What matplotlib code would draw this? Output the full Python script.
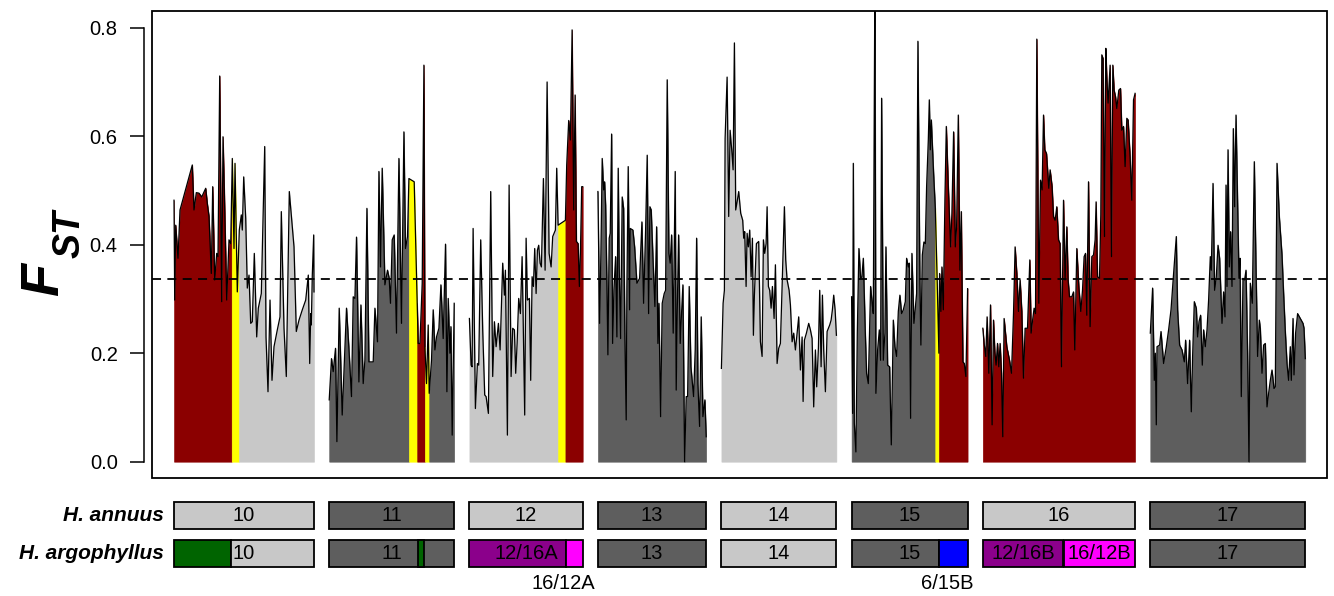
import matplotlib
matplotlib.use("Agg")
import matplotlib.pyplot as plt
import numpy as np
from matplotlib.patches import Rectangle

# ---- data (positions in map units from chromosome start, FST values) ----
chromosomes = ["10", "11", "12", "13", "14", "15", "16", "17"]
chrom_length = [140, 125, 113.3, 108.3, 115, 116, 152.3, 155]

chr10_pos = [0, 0.7, 1.7, 4, 6, 18.3, 20, 22.3, 25, 27.7, 31.7, 33.3, 35, 37.3, 38.7,
             40.7, 42.7, 44, 45.7, 47.7, 49, 50.3, 52.7, 55, 56.7, 58.3, 60, 61, 63.3,
             65.3, 67.3, 68.3, 69.7, 71.7, 73.3, 75, 76.7, 78.3, 80.3, 82.7, 84.3, 87.3,
             90.7, 92, 94, 96, 98, 100, 103.3, 106, 107.3, 110, 112.3, 115.3, 120, 122.3,
             125, 128.3, 131.7, 134.3, 135.7, 136.7, 137.3, 138.3, 139.7, 140]
chr10_fst = [0.482, 0.298, 0.436, 0.375, 0.464, 0.547, 0.464, 0.496, 0.495, 0.488, 0.504,
             0.476, 0.452, 0.347, 0.507, 0.335, 0.384, 0.378, 0.711, 0.295, 0.599, 0.501,
             0.298, 0.409, 0.402, 0.559, 0.393, 0.550, 0.313, 0.427, 0.455, 0.427, 0.525,
             0.449, 0.320, 0.344, 0.255, 0.258, 0.384, 0.230, 0.283, 0.310, 0.581, 0.230,
             0.129, 0.298, 0.150, 0.212, 0.243, 0.267, 0.461, 0.246, 0.157, 0.498, 0.396,
             0.240, 0.261, 0.280, 0.298, 0.344, 0.181, 0.273, 0.252, 0.344, 0.418, 0.313]

chr11_pos = [0, 2.3, 4, 6.3, 7.7, 10, 13, 17.3, 19.7, 22.3, 24, 25.7, 27.3, 29.7, 31.7,
             34, 35.7, 37.7, 39.7, 44, 45.7, 48.3, 49.7, 51.3, 53, 55.7, 58.3, 60, 61.3,
             63, 65, 67.3, 69.7, 72.3, 74.7, 76.3, 78.3, 79.7, 85, 89, 90.7, 93, 94.7,
             95.7, 97.3, 99, 100, 102.3, 104, 105.7, 107.3, 109.7, 111.7, 114, 116.3,
             117.7, 119, 120.7, 121.7, 123, 125]
chr11_fst = [0.114, 0.190, 0.166, 0.209, 0.037, 0.283, 0.086, 0.283, 0.209, 0.120, 0.304,
             0.301, 0.414, 0.147, 0.289, 0.144, 0.187, 0.467, 0.184, 0.184, 0.283, 0.221,
             0.535, 0.359, 0.541, 0.326, 0.353, 0.338, 0.292, 0.409, 0.418, 0.237, 0.559,
             0.255, 0.608, 0.393, 0.415, 0.522, 0.516, 0.218, 0.218, 0.329, 0.731, 0.212,
             0.144, 0.252, 0.126, 0.187, 0.280, 0.206, 0.230, 0.246, 0.326, 0.227, 0.401,
             0.129, 0.301, 0.200, 0.249, 0.049, 0.292]

chr12_pos = [0, 1.7, 2.7, 3.7, 6, 8, 9.3, 11.3, 13.3, 15.3, 16.7, 19, 21.3, 23.3, 25,
             26.7, 29, 30.7, 33.3, 35, 36, 38, 39.7, 41.7, 43.3, 45, 46.3, 47.7, 49.3, 51,
             52.7, 53.7, 55.3, 56.7, 58, 60, 61.3, 62.7, 64, 65.3, 66.7, 68, 69.3, 70.7,
             72, 74, 75.7, 77.7, 79.7, 81.7, 83.3, 86, 87.3, 88.7, 96, 97.3, 99.3, 101,
             102.7, 104.3, 105.7, 107, 108.7, 110, 111, 112.3, 113.3]
chr12_fst = [0.264, 0.178, 0.175, 0.430, 0.098, 0.181, 0.178, 0.409, 0.243, 0.123, 0.120,
             0.089, 0.498, 0.157, 0.258, 0.212, 0.255, 0.206, 0.366, 0.307, 0.353, 0.049,
             0.510, 0.157, 0.246, 0.243, 0.163, 0.218, 0.301, 0.273, 0.378, 0.270, 0.086,
             0.412, 0.298, 0.301, 0.150, 0.341, 0.323, 0.393, 0.310, 0.390, 0.399, 0.366,
             0.359, 0.522, 0.353, 0.700, 0.384, 0.359, 0.415, 0.427, 0.541, 0.436, 0.445,
             0.547, 0.629, 0.593, 0.796, 0.464, 0.676, 0.406, 0.402, 0.323, 0.384, 0.507,
             0.507]

chr13_pos = [0, 1.7, 3, 4.3, 5.7, 6.7, 7.7, 9, 10, 11.3, 12.3, 13.7, 14.7, 16, 17.7, 19,
             20.3, 21.3, 22.7, 24.3, 25.7, 27, 28.3, 29, 30.3, 31.7, 32.3, 35, 36.7, 39,
             41.7, 44, 45.7, 47.7, 49.3, 50.7, 52, 53.3, 55, 57, 58.7, 60, 61, 62.7, 64.3,
             66.3, 67.7, 69.3, 71, 72.3, 73.7, 75.3, 77.3, 78.3, 79.3, 80.7, 82.3, 83.7,
             85, 86.7, 88.3, 89.7, 91.3, 93, 95.7, 97.3, 98.7, 100, 101.7, 103.3, 105,
             107, 108.3]
chr13_fst = [0.498, 0.255, 0.384, 0.559, 0.501, 0.516, 0.473, 0.329, 0.197, 0.412, 0.421,
             0.604, 0.218, 0.316, 0.378, 0.230, 0.541, 0.359, 0.227, 0.488, 0.467, 0.230,
             0.077, 0.323, 0.544, 0.280, 0.430, 0.427, 0.396, 0.329, 0.338, 0.442, 0.292,
             0.427, 0.565, 0.273, 0.470, 0.464, 0.378, 0.286, 0.433, 0.218, 0.292, 0.083,
             0.292, 0.310, 0.316, 0.704, 0.384, 0.366, 0.418, 0.237, 0.535, 0.132, 0.273,
             0.418, 0.218, 0.276, 0.326, 0.0, 0.120, 0.120, 0.323, 0.175, 0.120, 0.206,
             0.412, 0.144, 0.065, 0.267, 0.083, 0.114, 0.046]

chr14_pos = [0, 1.7, 3, 3.7, 5.7, 7.3, 8.7, 10.3, 11.7, 13, 14.3, 15.7, 17.3, 19.3, 21.3,
             22.3, 23.3, 24.7, 25.7, 27, 28.3, 29.7, 31, 32, 33, 35, 37.3, 39, 40.7, 42,
             43.3, 44.7, 45.7, 47, 48.3, 49.7, 51, 52.7, 54, 55.7, 57.3, 59, 60.7, 63, 64.3,
             65.7, 67.7, 69, 70.7, 72.3, 74, 75.7, 77.3, 79, 80.7, 81.7, 83, 85, 87.3, 89,
             90.7, 92.3, 94, 95.3, 97, 98.3, 99.7, 101, 102.3, 104, 105.7, 108.3, 109.7,
             111, 112.3, 113.7, 115]
chr14_fst = [0.172, 0.292, 0.316, 0.596, 0.709, 0.452, 0.611, 0.575, 0.538, 0.772, 0.464,
             0.479, 0.498, 0.458, 0.445, 0.412, 0.424, 0.323, 0.421, 0.396, 0.427, 0.341,
             0.412, 0.233, 0.307, 0.402, 0.406, 0.221, 0.194, 0.409, 0.384, 0.402, 0.470,
             0.323, 0.316, 0.283, 0.323, 0.264, 0.363, 0.181, 0.209, 0.218, 0.323, 0.470,
             0.372, 0.335, 0.316, 0.289, 0.221, 0.237, 0.206, 0.237, 0.267, 0.169, 0.230,
             0.111, 0.224, 0.237, 0.255, 0.243, 0.227, 0.101, 0.206, 0.138, 0.209, 0.316,
             0.175, 0.307, 0.206, 0.129, 0.240, 0.252, 0.261, 0.280, 0.307, 0.280, 0.233]

chr15_pos = [0, 1, 1.7, 2.7, 4.3, 5.7, 7.3, 9, 10.3, 11.7, 13.7, 15, 16.7, 19, 20.7, 21.7,
             23.3, 24.3, 26, 27.7, 29, 30, 31.7, 33.3, 34.3, 36, 38, 39.7, 41.7, 43.3, 45,
             46.7, 48.3, 50, 51.7, 53.7, 55, 56.7, 57.7, 59, 60.3, 62.3, 65, 66.3, 68.3,
             69.3, 70.7, 72.3, 73.7, 75, 76.7, 77.7, 78.7, 79.7, 82, 83.7, 85.5, 87.3, 88,
             89.3, 90.3, 91.7, 93.3, 94.7, 96.7, 99, 100.3, 102, 103.7, 105, 106.7, 108.3,
             109.7, 111.3, 112.7, 114.3, 116]
chr15_fst = [0.304, 0.089, 0.550, 0.071, 0.018, 0.237, 0.393, 0.338, 0.341, 0.375, 0.237,
             0.163, 0.144, 0.323, 0.289, 0.273, 0.900, 0.126, 0.206, 0.243, 0.187, 0.670,
             0.187, 0.237, 0.396, 0.178, 0.175, 0.031, 0.261, 0.212, 0.194, 0.277, 0.307,
             0.273, 0.280, 0.295, 0.375, 0.359, 0.366, 0.080, 0.384, 0.255, 0.310, 0.775,
             0.329, 0.215, 0.381, 0.405, 0.402, 0.507, 0.593, 0.667, 0.575, 0.630, 0.531,
             0.467, 0.340, 0.200, 0.347, 0.277, 0.359, 0.280, 0.482, 0.618, 0.507, 0.396,
             0.458, 0.608, 0.396, 0.433, 0.639, 0.353, 0.461, 0.184, 0.181, 0.157, 0.319]

chr16_pos = [0, 1.3, 3, 4.3, 6, 7.7, 9.3, 10.7, 12, 13.3, 14.7, 16, 17.3, 18.7, 20, 21.3,
             24, 26.7, 28.7, 30.7, 32.3, 34, 35.7, 37.3, 39, 40.7, 42.3, 44.7, 47, 48.3,
             50, 51.3, 52.7, 54, 56, 57.7, 59.3, 60.7, 62, 63.7, 66, 67.3, 69.3, 70.7,
             72.3, 74, 75.7, 77.3, 78.7, 80.7, 82.3, 84, 85.3, 86.7, 89, 90.7, 92, 94, 96,
             98, 99.7, 101.3, 102.7, 104, 105.7, 107.3, 109, 110.7, 112.3, 113.3, 114.7,
             116.7, 118, 119, 120.3, 121.7, 123, 124, 125.3, 127.3, 128.7, 130, 131.3,
             132.7, 134, 136, 137.7, 139, 140.7, 142.3, 144, 145.3, 147.3, 149, 150.7, 152.3]
chr16_fst = [0.246, 0.218, 0.194, 0.267, 0.163, 0.289, 0.068, 0.261, 0.203, 0.178, 0.218,
             0.175, 0.218, 0.163, 0.046, 0.264, 0.212, 0.187, 0.163, 0.273, 0.396, 0.347,
             0.277, 0.335, 0.277, 0.154, 0.246, 0.246, 0.372, 0.237, 0.264, 0.283, 0.273,
             0.779, 0.292, 0.519, 0.501, 0.639, 0.575, 0.568, 0.504, 0.538, 0.507, 0.452,
             0.445, 0.470, 0.409, 0.402, 0.175, 0.482, 0.335, 0.433, 0.335, 0.304, 0.304,
             0.313, 0.206, 0.393, 0.323, 0.277, 0.316, 0.378, 0.384, 0.270, 0.516, 0.249,
             0.378, 0.381, 0.409, 0.479, 0.341, 0.338, 0.455, 0.750, 0.743, 0.415, 0.762,
             0.707, 0.661, 0.731, 0.378, 0.731, 0.685, 0.673, 0.651, 0.685, 0.688, 0.611,
             0.618, 0.544, 0.633, 0.630, 0.562, 0.482, 0.667, 0.679]

chr17_pos = [0, 2.3, 4, 5, 6, 6.7, 9.3, 10.7, 13.3, 16, 18.3, 20.7, 23.3, 26, 27.3, 29.3,
             31.7, 34, 35.3, 37.3, 39.3, 41, 42.3, 44, 46, 47.3, 48.7, 50.3, 52, 53.3, 55,
             56.7, 58.3, 60, 61, 62.7, 64.3, 66, 67.7, 69.3, 71.7, 73.3, 74.7, 75.7, 76.7,
             77.7, 79, 80.3, 81.7, 83, 84.3, 85.7, 87.3, 88.7, 89.7, 91, 92.7, 94.3, 95.7,
             97.3, 98.7, 100, 102, 104, 105.7, 107.3, 109, 110, 111.7, 113.3, 115, 116.7,
             118.3, 120, 121.7, 123.7, 125, 126.7, 129, 131.7, 133.3, 135, 136.7, 138.3,
             140, 141, 142.7, 143.7, 145.3, 147.3, 150, 152.7, 153.7, 155]
chr17_fst = [0.237, 0.320, 0.150, 0.200, 0.068, 0.212, 0.215, 0.240, 0.181, 0.212, 0.243,
             0.280, 0.347, 0.415, 0.280, 0.215, 0.206, 0.184, 0.224, 0.144, 0.224, 0.092,
             0.194, 0.295, 0.283, 0.230, 0.258, 0.270, 0.178, 0.243, 0.212, 0.243, 0.298,
             0.378, 0.353, 0.513, 0.316, 0.341, 0.399, 0.375, 0.255, 0.313, 0.267, 0.510,
             0.323, 0.575, 0.359, 0.424, 0.323, 0.614, 0.470, 0.639, 0.476, 0.338, 0.375,
             0.120, 0.338, 0.335, 0.353, 0.200, 0.0, 0.329, 0.292, 0.553, 0.359, 0.194,
             0.261, 0.246, 0.163, 0.215, 0.218, 0.101, 0.126, 0.150, 0.169, 0.135, 0.138,
             0.550, 0.452, 0.381, 0.310, 0.240, 0.181, 0.150, 0.212, 0.150, 0.264, 0.160,
             0.237, 0.273, 0.264, 0.255, 0.246, 0.190]

# colour classes along each chromosome in the FST panel
fst_segments = [
    [(0, 57.7, "inv"), (57.7, 65, "bnd"), (65, 140, "light")],
    [(0, 79.7, "dark"), (79.7, 88, "bnd"), (88, 95.7, "inv"), (95.7, 100, "bnd"),
     (100, 125, "dark")],
    [(0, 88.7, "light"), (88.7, 96, "bnd"), (96, 113.3, "inv")],
    [(0, 108.3, "dark")],
    [(0, 115, "light")],
    [(0, 83.7, "dark"), (83.7, 87.3, "bnd"), (87.3, 116, "inv")],
    [(0, 152.3, "inv")],
    [(0, 155, "dark")],
]

# karyotype boxes
annuus_class = ["light", "dark", "light", "dark", "light", "dark", "light", "dark"]
argo_segments = [
    [(0, 56.7, "green"), (56.7, 140, "light")],
    [(0, 125, "dark"), (88.3, 95, "green")],
    [(0, 96.7, "purple"), (96.7, 113.3, "magenta")],
    [(0, 108.3, "dark")],
    [(0, 115, "light")],
    [(0, 87.7, "dark"), (87.7, 116, "blue")],
    [(0, 80.7, "purple"), (80.7, 152.3, "magenta")],
    [(0, 155, "dark")],
]
argo_labels = [(0, None, "10"), (1, None, "11"), (2, None, "12/16A"), (3, None, "13"),
               (4, None, "14"), (5, None, "15"), (6, 40.3, "12/16B"),
               (6, 116.5, "16/12B"), (7, None, "17")]
below_labels = [(2, 94, "16/12A"), (5, 96, "6/15B")]

fst_threshold = 0.337
yticks = [0.0, 0.2, 0.4, 0.6, 0.8]

COLORS = {
    "inv": "#8B0000",
    "bnd": "#FFFF00",
    "light": "#C8C8C8",
    "dark": "#5E5E5E",
    "green": "#006400",
    "purple": "#8B008B",
    "magenta": "#FF00FF",
    "blue": "#0000FF",
}

GAP = 15.2
W, H = 1334, 596

chr_pos = [chr10_pos, chr11_pos, chr12_pos, chr13_pos, chr14_pos, chr15_pos, chr16_pos,
           chr17_pos]
chr_fst = [chr10_fst, chr11_fst, chr12_fst, chr13_fst, chr14_fst, chr15_fst, chr16_fst,
           chr17_fst]

offsets = []
acc = 0.0
for length in chrom_length:
    offsets.append(acc)
    acc += length + GAP
total = offsets[-1] + chrom_length[-1]
xlim = (-22.3, total + 21.7)

plt.rcParams["font.family"] = ["Liberation Sans", "DejaVu Sans"]

fig = plt.figure(figsize=(W / 100, H / 100), dpi=100)


def px_box(x0, y0, x1, y1):
    return [x0 / W, 1 - y1 / H, (x1 - x0) / W, (y1 - y0) / H]


ax = fig.add_axes(px_box(151.7, 11, 1327, 478.3))
ax.set_xlim(*xlim)
ax.set_ylim(-0.0306, 0.8308)


def segment(pos, fst, s, e):
    pos = np.asarray(pos, dtype=float)
    fst = np.asarray(fst, dtype=float)
    inside = (pos > s) & (pos < e)
    xs = np.concatenate([[s], pos[inside], [e]])
    ys = np.concatenate([[np.interp(s, pos, fst)], fst[inside], [np.interp(e, pos, fst)]])
    return xs, ys


for i in range(len(chromosomes)):
    off = offsets[i]
    for s, e, cls in fst_segments[i]:
        xs, ys = segment(chr_pos[i], chr_fst[i], s, e)
        ax.fill_between(off + xs, 0, ys, color=COLORS[cls], lw=0.4, zorder=2)
    ax.plot(off + np.asarray(chr_pos[i]), chr_fst[i], color="black", lw=0.9, zorder=3)

ax.axhline(fst_threshold, color="black", lw=1.3, linestyle=(0, (5, 3.5)), zorder=4)

for side in ["top", "right", "bottom"]:
    ax.spines[side].set_visible(False)
ax.spines["left"].set_position(("outward", 5.5))
ax.spines["left"].set_bounds(0, 0.8)
ax.spines["left"].set_linewidth(1.1)
ax.add_patch(Rectangle((0, 0), 1, 1, transform=ax.transAxes, fill=False,
                       edgecolor="black", lw=1.3, clip_on=False, zorder=5))
ax.set_xticks([])
ax.set_yticks(yticks)
ax.set_yticklabels([f"{v:.1f}" for v in yticks])
ax.tick_params(axis="y", length=10, width=1.1, pad=9, labelsize=14.5)

fig.text(58 / W, 1 - 296 / H, "F", rotation=90, rotation_mode="anchor", ha="left",
         va="baseline", fontsize=39, fontweight="bold", fontstyle="italic")
fig.text(80 / W, 1 - 258 / H, "ST", rotation=90, rotation_mode="anchor", ha="left",
         va="baseline", fontsize=27, fontweight="bold", fontstyle="italic")

# ---- karyotype panel ----
kx = fig.add_axes(px_box(151.7, 490, 1327, 596))
kx.set_xlim(*xlim)
kx.set_ylim((596 - 515.7) / 38, (490 - 515.7) / 38)
kx.axis("off")
bh = 0.70

for i in range(len(chromosomes)):
    off = offsets[i]
    kx.add_patch(Rectangle((off, -bh / 2), chrom_length[i], bh,
                           facecolor=COLORS[annuus_class[i]], edgecolor="black", lw=1.3))
    kx.text(off + chrom_length[i] / 2, 0, chromosomes[i], ha="center", va="center",
            fontsize=14.5)
    for s, e, cls in argo_segments[i]:
        kx.add_patch(Rectangle((off + s, 1 - bh / 2), e - s, bh, facecolor=COLORS[cls],
                               edgecolor="black", lw=1.3))

for i, p, label in argo_labels:
    x = offsets[i] + (chrom_length[i] / 2 if p is None else p)
    kx.text(x, 1, label, ha="center", va="center", fontsize=14.5)

for i, p, label in below_labels:
    kx.text(offsets[i] + p, (583.5 - 515.7) / 38, label, ha="center", va="center",
            fontsize=14.5)

kx.text(-10, 0, "H. annuus", ha="right", va="center", fontsize=15,
        fontweight="bold", fontstyle="italic")
kx.text(-10, 1, "H. argophyllus", ha="right", va="center", fontsize=15,
        fontweight="bold", fontstyle="italic")

fig.savefig("out.png", dpi=100)
